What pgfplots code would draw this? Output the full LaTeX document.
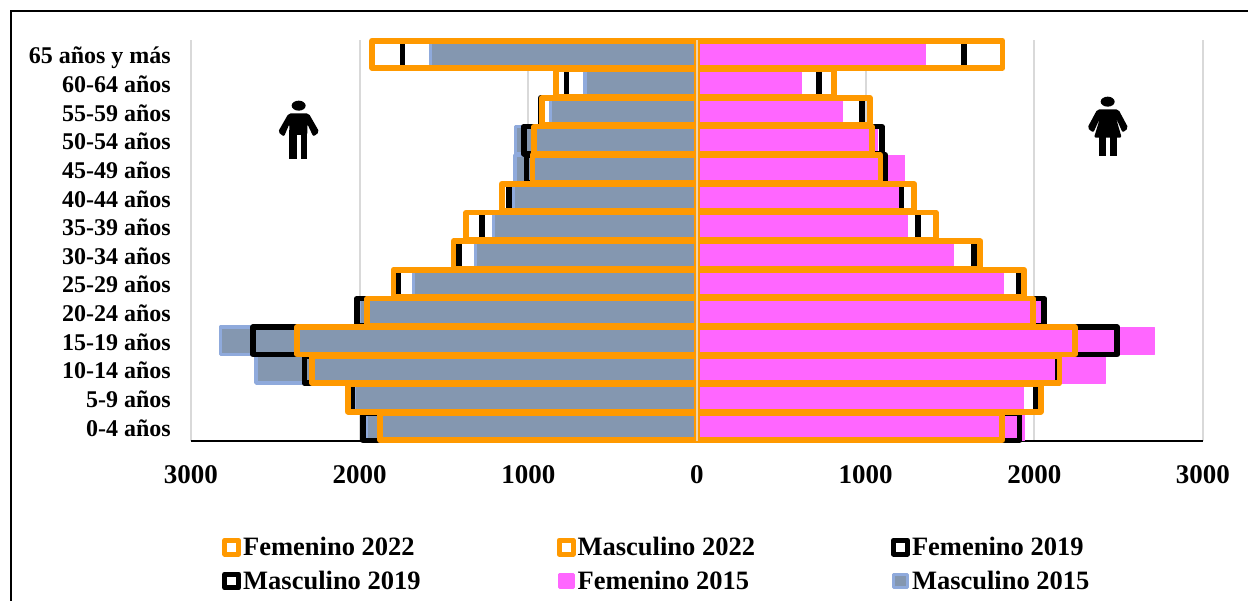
\documentclass[border=0pt]{standalone}
\usepackage{pgfplots}
\usepackage{pgfplotstable}
\usepackage{fontspec}
\setmainfont{Liberation Serif}
\pgfplotsset{compat=1.18}

\definecolor{naranja}{HTML}{FF9900}
\definecolor{rosa}{HTML}{FF66FF}
\definecolor{grisazul}{HTML}{8497B0}
\definecolor{azulclaro}{HTML}{8FAADC}
\definecolor{rejilla}{HTML}{D9D9D9}
\definecolor{centro}{HTML}{EBD3AE}

% idx, masculino/femenino por anio
\pgfplotstableread{
idx m2015 f2015 m2019 f2019 m2022 f2022
0  -1960 1944 -1979 1912 -1878 1810
1  -2030 1934 -2042 2008 -2068 2038
2  -2615 2423 -2328 2140 -2282 2150
3  -2826 2710 -2631 2492 -2370 2240
4  -2000 2044 -2016 2059 -1955 1994
5  -1682 1816 -1771 1906 -1800 1940
6  -1312 1523 -1412 1643 -1443 1680
7  -1208 1246 -1274 1309 -1368 1417
8  -1090 1193 -1116 1213 -1158 1288
9  -1080 1233 -1010 1118 -976  1088
10 -1075 1072 -1027 1096 -965  1038
11 -870  860  -927  980  -919  1026
12 -663  621  -773  725  -835  813
13 -1579 1357 -1747 1585 -1927 1812
}\datos

\begin{document}
\begin{tikzpicture}[x=1pt,y=1pt]
\useasboundingbox (0,0) rectangle (1248,600);
\draw[black,line width=2pt] (11,-5) -- (11,589) -- (1253,589);
\begin{axis}[
  at={(191pt,159pt)}, anchor=south west,
  scale only axis, width=1012pt, height=401pt,
  xmin=-3000, xmax=3000, ymin=-0.5, ymax=13.5,
  xbar, bar shift=0pt, bar width=27.3pt,
  axis x line=bottom, axis y line*=left,
  x axis line style={black,line width=2pt,-},
  y axis line style={draw=none},
  xtick={-3000,-2000,-1000,0,1000,2000,3000},
  xticklabels={3000,2000,1000,0,1000,2000,3000},
  ytick={0,1,2,3,4,5,6,7,8,9,10,11,12,13},
  yticklabels={0-4 años,5-9 años,10-14 años,15-19 años,20-24 años,25-29 años,30-34 años,35-39 años,40-44 años,45-49 años,50-54 años,55-59 años,60-64 años,65 años y más},
  xmajorgrids, grid style={rejilla,line width=1.8pt},
  major tick length=0pt,
  xticklabel style={font=\fontsize{27}{30}\selectfont\bfseries,yshift=-21pt},
  yticklabel style={font=\fontsize{24}{28}\selectfont\bfseries,anchor=east,inner sep=0pt,
    text height=17pt,text depth=0pt,xshift=-20pt,yshift=-1pt},
  clip=false,
  legend image code/.code={\draw[#1,line join=round] (0pt,-6.9pt) rectangle (14pt,6.9pt);},
  legend style={at={(28pt,-92pt)},anchor=north west,draw=none,fill=none,
    font=\fontsize{26.5}{30}\selectfont\bfseries,
    legend columns=3,
    /tikz/every even column/.append style={column sep=134pt},
    row sep=10pt},
  legend cell align=left,
]
\addlegendimage{draw=naranja,fill=white,line width=5pt}
\addlegendentry{Femenino 2022}
\addlegendimage{draw=naranja,fill=white,line width=5pt}
\addlegendentry{Masculino 2022}
\addlegendimage{draw=black,fill=white,line width=5pt}
\addlegendentry{Femenino 2019}
\addlegendimage{draw=black,fill=white,line width=5pt}
\addlegendentry{Masculino 2019}
\addlegendimage{draw=rosa,fill=rosa,line width=3pt}
\addlegendentry{Femenino 2015}
\addlegendimage{draw=azulclaro,fill=grisazul,line width=3pt}
\addlegendentry{Masculino 2015}

\addplot[forget plot,draw=azulclaro,fill=grisazul,line width=3.4pt,line join=round] table[x=m2015,y=idx] {\datos};
\addplot[forget plot,draw=rosa,fill=rosa,line width=1pt,line join=round] table[x=f2015,y=idx] {\datos};
\addplot[forget plot,draw=black,fill=none,line width=5.6pt,line join=round] table[x=m2019,y=idx] {\datos};
\addplot[forget plot,draw=black,fill=none,line width=5.6pt,line join=round] table[x=f2019,y=idx] {\datos};
\addplot[forget plot,draw=naranja,fill=none,line width=5.7pt,line join=round] table[x=m2022,y=idx] {\datos};
\addplot[forget plot,draw=naranja,fill=none,line width=5.7pt,line join=round] table[x=f2022,y=idx] {\datos};
\addplot[forget plot,xbar=false,sharp plot,draw=centro,line width=2pt] coordinates {(0,-0.5) (0,13.5)};
\end{axis}
% hombre
\begin{scope}[shift={(260,510)},x=0.3333pt,y=-0.3333pt]
\fill (116,47) ellipse [x radius=21,y radius=15];
\fill[rounded corners=2pt] (86,70) -- (146,70) -- (178,126) -- (160,140) -- (142,102) -- (142,135) -- (88,135) -- (88,102) -- (72,140) -- (54,126) -- cycle;
\fill (88,120) rectangle (110,208);
\fill (122,120) rectangle (142,208);
\end{scope}
% mujer
\begin{scope}[shift={(1070,514)},x=0.3333pt,y=-0.3333pt]
\fill (113,47) ellipse [x radius=21,y radius=15];
\fill[rounded corners=2pt] (82,70) -- (145,70) -- (175,126) -- (158,140) -- (138,96) -- (155,155) -- (72,155) -- (90,96) -- (70,140) -- (52,126) -- cycle;
\fill (87,150) rectangle (107,210);
\fill (120,150) rectangle (140,210);
\end{scope}
\end{tikzpicture}
\end{document}
